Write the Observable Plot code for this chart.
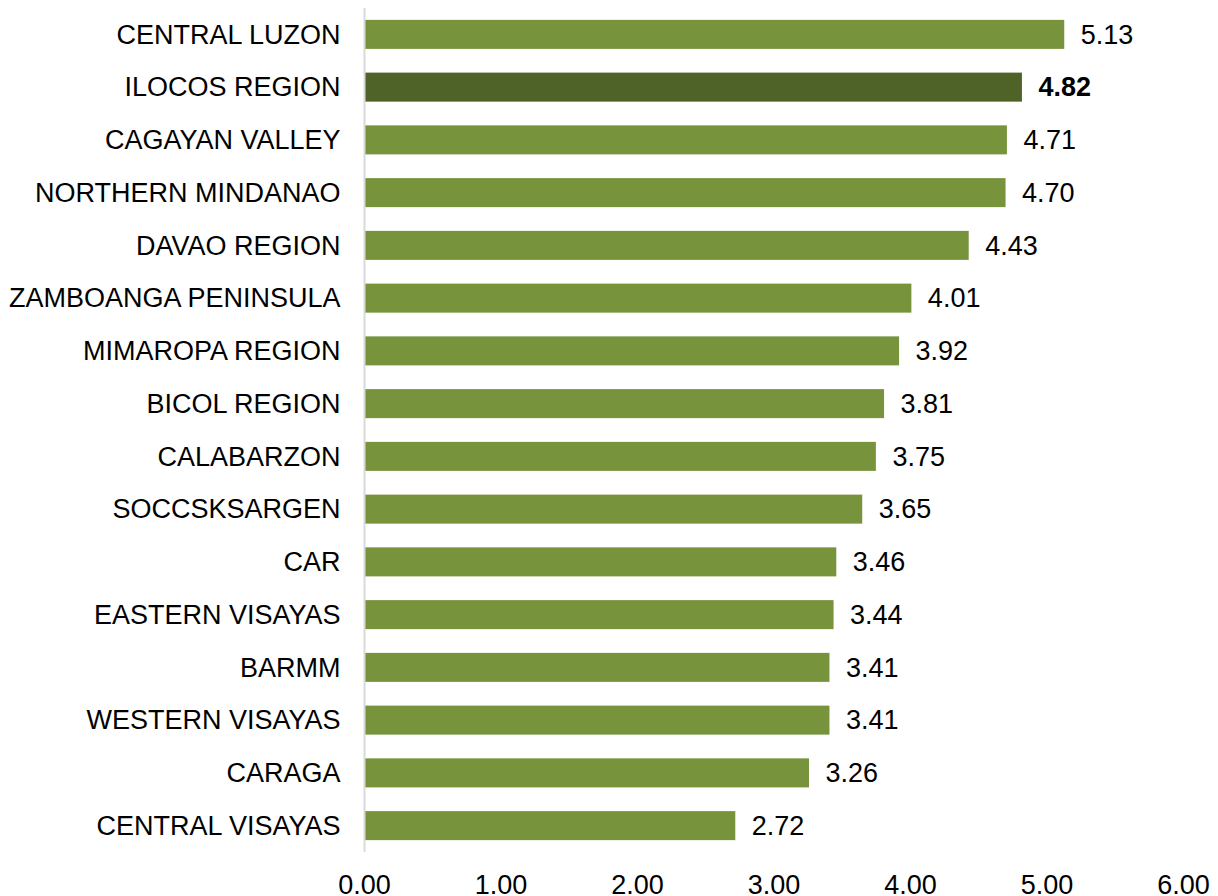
<!DOCTYPE html>
<html>
<head>
<meta charset="utf-8">
<script src="https://cdn.jsdelivr.net/npm/d3@7"></script>
<script src="https://cdn.jsdelivr.net/npm/@observablehq/plot@0.6"></script>
<style>
  html, body { margin: 0; padding: 0; background: #fff; }
</style>
</head>
<body>
<div id="chart"></div>
<script>
const regions = [
  "CENTRAL LUZON", "ILOCOS REGION", "CAGAYAN VALLEY", "NORTHERN MINDANAO",
  "DAVAO REGION", "ZAMBOANGA PENINSULA", "MIMAROPA REGION", "BICOL REGION",
  "CALABARZON", "SOCCSKSARGEN", "CAR", "EASTERN VISAYAS", "BARMM",
  "WESTERN VISAYAS", "CARAGA", "CENTRAL VISAYAS"
];
const values = [5.13, 4.82, 4.71, 4.70, 4.43, 4.01, 3.92, 3.81, 3.75, 3.65, 3.46, 3.44, 3.41, 3.41, 3.26, 2.72];
const highlight = "ILOCOS REGION";
const xTicks = [0, 1, 2, 3, 4, 5, 6];

const data = regions.map((r, i) => ({region: r, value: values[i], hi: r === highlight}));
const fmt = d3.format(".2f");

const chart = Plot.plot({
  width: 1218,
  height: 896,
  marginLeft: 364,
  marginRight: 35,
  marginTop: 8,
  marginBottom: 44,
  style: {fontFamily: "'Liberation Sans', Arial, sans-serif", fontSize: "27px", color: "#000", background: "#fff"},
  x: {domain: [0, 6], ticks: xTicks},
  y: {domain: regions, paddingInner: 0.45, paddingOuter: 0.225, round: false},
  marks: [
    Plot.barX(data, {x: "value", y: "region", fill: d => d.hi ? "#4F6228" : "#77933C"}),
    Plot.ruleX([0], {stroke: "#d9d9d9", strokeWidth: 2}),
    Plot.text(data.filter(d => !d.hi), {x: "value", y: "region", text: d => fmt(d.value), textAnchor: "start", dx: 16, fontSize: 27, fill: "#000"}),
    Plot.text(data.filter(d => d.hi), {x: "value", y: "region", text: d => fmt(d.value), textAnchor: "start", dx: 16, fontSize: 27, fontWeight: "bold", fill: "#000"}),
    Plot.axisY({tickSize: 0, tickPadding: 24, fontSize: 27, label: null}),
    Plot.axisX({ticks: xTicks, tickSize: 0, tickPadding: 22, fontSize: 27, tickFormat: fmt, label: null})
  ]
});
document.getElementById("chart").appendChild(chart);
</script>
</body>
</html>
